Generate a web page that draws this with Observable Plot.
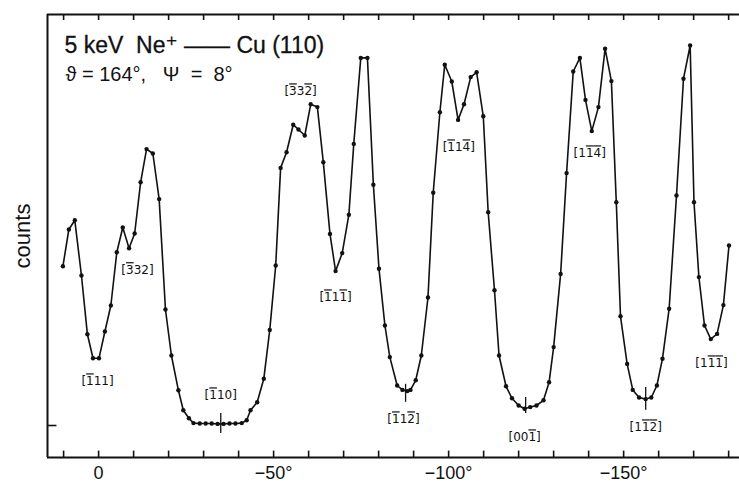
<!DOCTYPE html>
<html>
<head>
<meta charset="utf-8">
<script src="https://cdn.jsdelivr.net/npm/d3@7"></script>
<script src="https://cdn.jsdelivr.net/npm/@observablehq/plot@0.6"></script>
<style>
  html, body { margin: 0; padding: 0; background: #fff; }
  #chart svg { display: block; }
  .dir-label tspan.neg { text-decoration: overline; }
</style>
</head>
<body>
<div id="chart"></div>
<script>
// Azimuthal scan: scattered-ion counts versus azimuth angle (degrees)
const angle = [
  10.2, 8.5, 6.8, 4.9, 3.2, 1.6, -0.1, -1.8, -3.5, -5.2, -6.9, -8.7, -10.3, -12.0, -13.7, -15.5,
  -17.3, -19.1, -20.8, -22.8, -24.2, -25.8, -27.1, -28.9, -30.6, -32.3, -34.0, -35.7, -37.4, -39.1,
  -40.9, -42.3, -43.4, -45.3, -47.2, -48.9, -50.6, -52.0, -53.7, -55.6, -57.1, -58.9, -60.6, -62.5,
  -64.2, -66.1, -67.7, -69.6, -71.5, -72.9, -74.9, -76.8, -78.5, -80.1, -81.8, -83.2, -85.3, -86.8,
  -88.2, -89.1, -90.6, -92.2, -94.1, -95.6, -97.5, -98.9, -100.9, -102.7, -104.4, -106.3, -108.0,
  -109.9, -111.3, -113.1, -114.4, -116.4, -118.1, -120.0, -121.7, -123.3, -125.1, -127.1, -128.7,
  -130.0, -132.0, -133.7, -135.6, -137.5, -139.1, -140.9, -142.8, -144.7, -146.5, -147.9, -149.1,
  -151.0, -152.6, -154.4, -156.3, -157.9, -159.5, -161.1, -163.0, -165.1, -167.1, -169.0, -170.1,
  -171.5, -173.1, -174.9, -176.7, -178.5, -180.1
];
const counts = [
  39.8, 49.0, 51.3, 37.5, 22.8, 16.8, 16.8, 23.5, 30.0, 43.3, 49.5, 44.3, 48.0, 60.8, 69.1, 68.0,
  56.6, 29.0, 17.5, 8.8, 3.8, 1.8, 0.6, 0.5, 0.5, 0.5, 0.4, 0.4, 0.5, 0.5,
  0.6, 1.3, 3.8, 5.8, 11.7, 23.9, 40.0, 64.4, 68.3, 75.2, 74.0, 72.5, 80.3, 79.6,
  65.8, 47.9, 38.6, 43.1, 52.7, 70.4, 91.9, 91.9, 60.2, 39.2, 25.0, 17.1, 10.0, 8.9,
  8.6, 8.9, 11.3, 17.5, 32.0, 58.2, 78.3, 90.2, 86.0, 76.4, 80.3, 87.1, 88.3,
  77.3, 53.3, 33.8, 17.5, 9.8, 6.8, 5.0, 4.2, 4.6, 5.0, 6.3, 10.8,
  19.6, 37.9, 63.1, 88.5, 91.9, 81.4, 73.6, 79.6, 94.2, 86.1, 55.8, 27.3,
  15.4, 8.9, 7.0, 6.6, 7.0, 10.0, 16.7, 29.2, 57.5, 86.7, 95.0, 55.8,
  37.1, 25.0, 21.6, 22.9, 30.1, 45.0
];

// Crystallographic directions annotated on the curve; "~" marks a barred (negative) index
const dirText = [
  "[~111]", "[~332]", "[~110]", "[~33~2]", "[~11~1]", "[~11~2]",
  "[~11~4]", "[00~1]", "[1~1~4]", "[1~1~2]", "[1~1~1]"
];
const dirAngle = [0.3, -11.1, -34.9, -57.7, -67.7, -87.1, -102.9, -121.7, -140.3, -156.3, -175.1];
const dirCounts = [11.0, 38.8, 7.5, 83.5, 32.0, 1.5, 69.5, -3.0, 68.0, -0.5, 15.5];

// Short vertical markers at the channelling minima
const minAngle = [-34.9, -87.7, -122.0, -156.3];
const minLow = [-2.0, 5.8, 3.0, 3.8];
const minHigh = [3.0, 10.3, 7.0, 9.5];

// Axis ticks
const xTicks = d3.range(10, -181, -10);
const xTickLabels = [0, -50, -100, -150];
const yTicks = [0];

const title = "5 keV\u00a0 Ne\u207a \u2014\u2014 Cu (110)";
const subtitle = "\u03d1\u00a0=\u00a0164\u00b0,\u00a0\u00a0\u00a0\u03a8\u00a0\u00a0=\u00a0\u00a08\u00b0";

const data = angle.map((a, i) => ({angle: a, counts: counts[i]}));
// split each label into characters, flagging the barred ones
const dirs = dirText.map((t, i) => {
  const chars = [];
  for (let k = 0; k < t.length; k++) {
    if (t[k] === "~") continue;
    chars.push({c: t[k], neg: t[k - 1] === "~"});
  }
  return {chars, plain: chars.map(d => d.c).join(""), angle: dirAngle[i], counts: dirCounts[i]};
});
const mins = minAngle.map((a, i) => ({angle: a, lo: minLow[i], hi: minHigh[i]}));

const xMin = 14.6, xMax = -183.1, yMin = -8, yMax = 102.75;
const font = "'Liberation Sans', 'DejaVu Sans', Arial, sans-serif";

const chart = Plot.plot({
  width: 739,
  height: 484,
  marginLeft: 47,
  marginRight: 0,
  marginTop: 14,
  marginBottom: 27,
  x: {domain: [xMin, xMax], axis: null},
  y: {domain: [yMin, yMax], axis: null},
  style: {background: "#fff", color: "#111", fontFamily: font},
  marks: [
    // frame: left, bottom and top edges
    Plot.ruleX([xMin], {y1: yMin, y2: yMax, stroke: "#111", strokeWidth: 2}),
    Plot.ruleY([yMin, yMax], {x1: xMin, x2: xMax, stroke: "#111", strokeWidth: 2}),
    // inward ticks every 10 degrees on bottom and top edges
    Plot.ruleX(xTicks, {y1: yMin, y2: yMin + 1.6, stroke: "#111", strokeWidth: 1.6}),
    Plot.ruleX(xTicks, {y1: yMax, y2: yMax - 1.5, stroke: "#111", strokeWidth: 1.6}),
    // inward tick on the left edge at zero level
    Plot.ruleY(yTicks, {x1: xMin, x2: xMin - 2.7, stroke: "#111", strokeWidth: 1.6}),
    // tick labels
    Plot.text(xTickLabels, {
      x: d => d, frameAnchor: "bottom", dy: 16, lineAnchor: "middle", textAnchor: "middle",
      text: d => d === 0 ? "0" : "\u2212" + Math.abs(d) + "\u00b0",
      fontSize: 18, fill: "#111"
    }),
    Plot.text(["counts"], {
      frameAnchor: "left", dx: -25, rotate: -90, textAnchor: "middle", lineAnchor: "middle",
      fontSize: 22, fill: "#111", letterSpacing: 4
    }),
    // header
    Plot.text([title], {
      frameAnchor: "top-left", dx: 17, dy: 31, textAnchor: "start", lineAnchor: "middle",
      fontSize: 23, fill: "#111", stroke: "#111", strokeWidth: 0.3, letterSpacing: 1
    }),
    Plot.text([subtitle], {
      frameAnchor: "top-left", dx: 18, dy: 60, textAnchor: "start", lineAnchor: "middle",
      fontSize: 20, fill: "#111", letterSpacing: 2
    }),
    // minima markers
    Plot.ruleX(mins, {x: "angle", y1: "lo", y2: "hi", stroke: "#111", strokeWidth: 1.3}),
    // measured curve
    Plot.line(data, {x: "angle", y: "counts", stroke: "#111", strokeWidth: 1.6}),
    Plot.dot(data, {x: "angle", y: "counts", r: 2.2, fill: "#111", stroke: "none"}),
    // direction labels
    Plot.text(dirs, {
      x: "angle", y: "counts", text: "plain", textAnchor: "middle", lineAnchor: "middle",
      fontSize: 12, fontFamily: "'DejaVu Sans', sans-serif", fill: "#111", letterSpacing: 0.8,
      className: "dir-label"
    })
  ]
});

// give barred indices an overline by splitting each label into tspans
chart.querySelectorAll("g.dir-label text").forEach((el, i) => {
  const d = dirs[i];
  el.textContent = "";
  for (const ch of d.chars) {
    const ts = document.createElementNS("http://www.w3.org/2000/svg", "tspan");
    ts.textContent = ch.c;
    if (ch.neg) ts.setAttribute("class", "neg");
    el.appendChild(ts);
  }
});

document.getElementById("chart").append(chart);
</script>
</body>
</html>
